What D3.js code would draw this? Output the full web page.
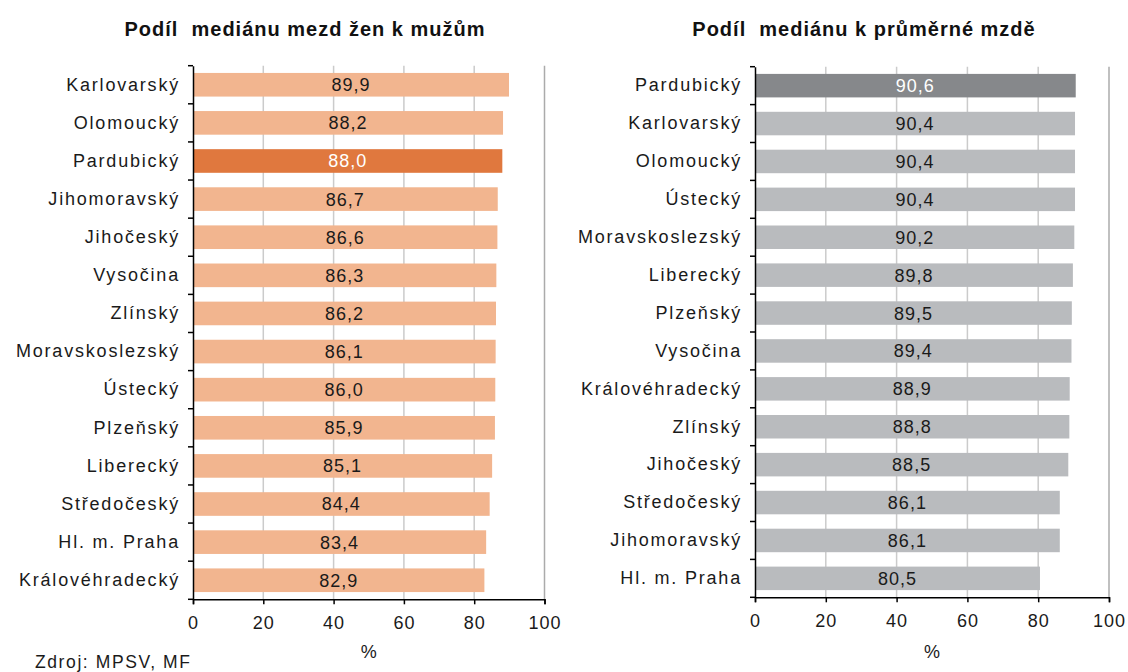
<!DOCTYPE html>
<html>
<head>
<meta charset="utf-8">
<script src="https://cdn.jsdelivr.net/npm/d3@7"></script>
<style>
  body { margin: 0; background: #fff; }
  svg { display: block; font-family: "Liberation Sans", Arial, sans-serif; }
</style>
</head>
<body>
<script>
// left chart: ratio of women's median wage to men's
var leftTitle = "Podíl  mediánu mezd žen k mužům";
var leftRegions = ["Karlovarský", "Olomoucký", "Pardubický", "Jihomoravský", "Jihočeský",
  "Vysočina", "Zlínský", "Moravskoslezský", "Ústecký", "Plzeňský", "Liberecký",
  "Středočeský", "Hl. m. Praha", "Královéhradecký"];
var leftValues = [89.9, 88.2, 88.0, 86.7, 86.6, 86.3, 86.2, 86.1, 86.0, 85.9, 85.1, 84.4, 83.4, 82.9];

// right chart: ratio of median to average wage
var rightTitle = "Podíl  mediánu k průměrné mzdě";
var rightRegions = ["Pardubický", "Karlovarský", "Olomoucký", "Ústecký", "Moravskoslezský",
  "Liberecký", "Plzeňský", "Vysočina", "Královéhradecký", "Zlínský", "Jihočeský",
  "Středočeský", "Jihomoravský", "Hl. m. Praha"];
var rightValues = [90.6, 90.4, 90.4, 90.4, 90.2, 89.8, 89.5, 89.4, 88.9, 88.8, 88.5, 86.1, 86.1, 80.5];

var xTicks = [0, 20, 40, 60, 80, 100];
var highlight = "Pardubický";

var svg = d3.select("body").append("svg")
    .attr("width", 1128)
    .attr("height", 672);

function drawPanel(opt) {
  var x = d3.scaleLinear().domain([0, 100]).range([opt.left, opt.right]);
  var y = d3.scaleBand().domain(opt.regions).range([opt.top, opt.bottom]).paddingInner(0.38).paddingOuter(0.19);

  var g = svg.append("g");

  // title
  g.append("text")
      .attr("x", opt.titleX)
      .attr("y", 36)
      .attr("text-anchor", "middle")
      .style("font-weight", "bold")
      .style("font-size", "20px")
      .style("letter-spacing", "1px")
      .style("white-space", "pre")
      .attr("fill", "#111")
      .text(opt.title);

  // vertical gridlines
  g.selectAll("line.grid")
    .data(xTicks.slice(1))
    .enter().append("line")
      .attr("class", "grid")
      .attr("x1", function(d) { return x(d); })
      .attr("x2", function(d) { return x(d); })
      .attr("y1", opt.top)
      .attr("y2", opt.bottom)
      .attr("stroke", function(d) { return d == 100 ? "#ababab" : "#cbcbcb"; })
      .attr("stroke-width", 1.5);

  // bars
  g.selectAll("rect.bar")
    .data(opt.values)
    .enter().append("rect")
      .attr("class", "bar")
      .attr("x", x(0))
      .attr("y", function(d, i) { return y(opt.regions[i]); })
      .attr("width", function(d) { return x(d) - x(0); })
      .attr("height", y.bandwidth())
      .attr("fill", function(d, i) { return opt.regions[i] == highlight ? opt.dark : opt.light; });

  // value labels
  g.selectAll("text.val")
    .data(opt.values)
    .enter().append("text")
      .attr("class", "val")
      .attr("x", function(d) { return (x(0) + x(d)) / 2; })
      .attr("y", function(d, i) { return y(opt.regions[i]) + y.bandwidth() / 2; })
      .attr("dy", "0.36em")
      .attr("text-anchor", "middle")
      .style("font-size", "18px")
      .style("letter-spacing", "1px")
      .attr("fill", function(d, i) { return opt.regions[i] == highlight ? "#fff" : "#1a1a1a"; })
      .text(function(d) { return d.toFixed(1).replace(".", ","); });

  // x axis
  var xAxis = g.append("g")
      .attr("transform", "translate(0," + opt.bottom + ")")
      .call(d3.axisBottom(x).tickValues(xTicks).tickSize(5).tickPadding(12));
  xAxis.select(".domain").attr("stroke", "#000").attr("stroke-width", 1.5);
  xAxis.selectAll(".tick line").attr("stroke", "#000").attr("stroke-width", 1.5);
  xAxis.selectAll(".tick text")
      .style("font-size", "18px")
      .style("letter-spacing", "1px")
      .style("font-family", "Liberation Sans, Arial, sans-serif")
      .attr("fill", "#1a1a1a");

  // y axis: category labels with ticks between the bands
  var yAxis = g.append("g")
      .attr("transform", "translate(" + opt.left + ",0)")
      .call(d3.axisLeft(y).tickSize(0).tickPadding(13));
  yAxis.select(".domain").attr("stroke", "#000").attr("stroke-width", 1.5);
  yAxis.selectAll(".tick text")
      .style("font-size", "18px")
      .style("letter-spacing", "1.8px")
      .style("font-family", "Liberation Sans, Arial, sans-serif")
      .attr("fill", "#1a1a1a");

  var step = y.step();
  var bounds = d3.range(opt.regions.length + 1).map(function(i) { return opt.top + i * step; });
  g.selectAll("line.ytick")
    .data(bounds)
    .enter().append("line")
      .attr("class", "ytick")
      .attr("x1", opt.left - 5)
      .attr("x2", opt.left)
      .attr("y1", function(d) { return d; })
      .attr("y2", function(d) { return d; })
      .attr("stroke", "#000")
      .attr("stroke-width", 1.5);

  // axis title
  g.append("text")
      .attr("x", (opt.left + opt.right) / 2)
      .attr("y", 658)
      .attr("text-anchor", "middle")
      .style("font-size", "18px")
      .attr("fill", "#1a1a1a")
      .text("%");
}

drawPanel({
  title: leftTitle, titleX: 305,
  regions: leftRegions, values: leftValues,
  left: 193, right: 544.5, top: 65.7, bottom: 599.3,
  light: "#f2b58f", dark: "#e0783e"
});

drawPanel({
  title: rightTitle, titleX: 864,
  regions: rightRegions, values: rightValues,
  left: 755, right: 1109, top: 66.7, bottom: 597.3,
  light: "#b9bbbe", dark: "#86888b"
});

// source note
svg.append("text")
    .attr("x", 35)
    .attr("y", 668)
    .style("font-size", "17.5px")
    .style("letter-spacing", "1.6px")
    .attr("fill", "#1a1a1a")
    .text("Zdroj: MPSV, MF");
</script>
</body>
</html>
